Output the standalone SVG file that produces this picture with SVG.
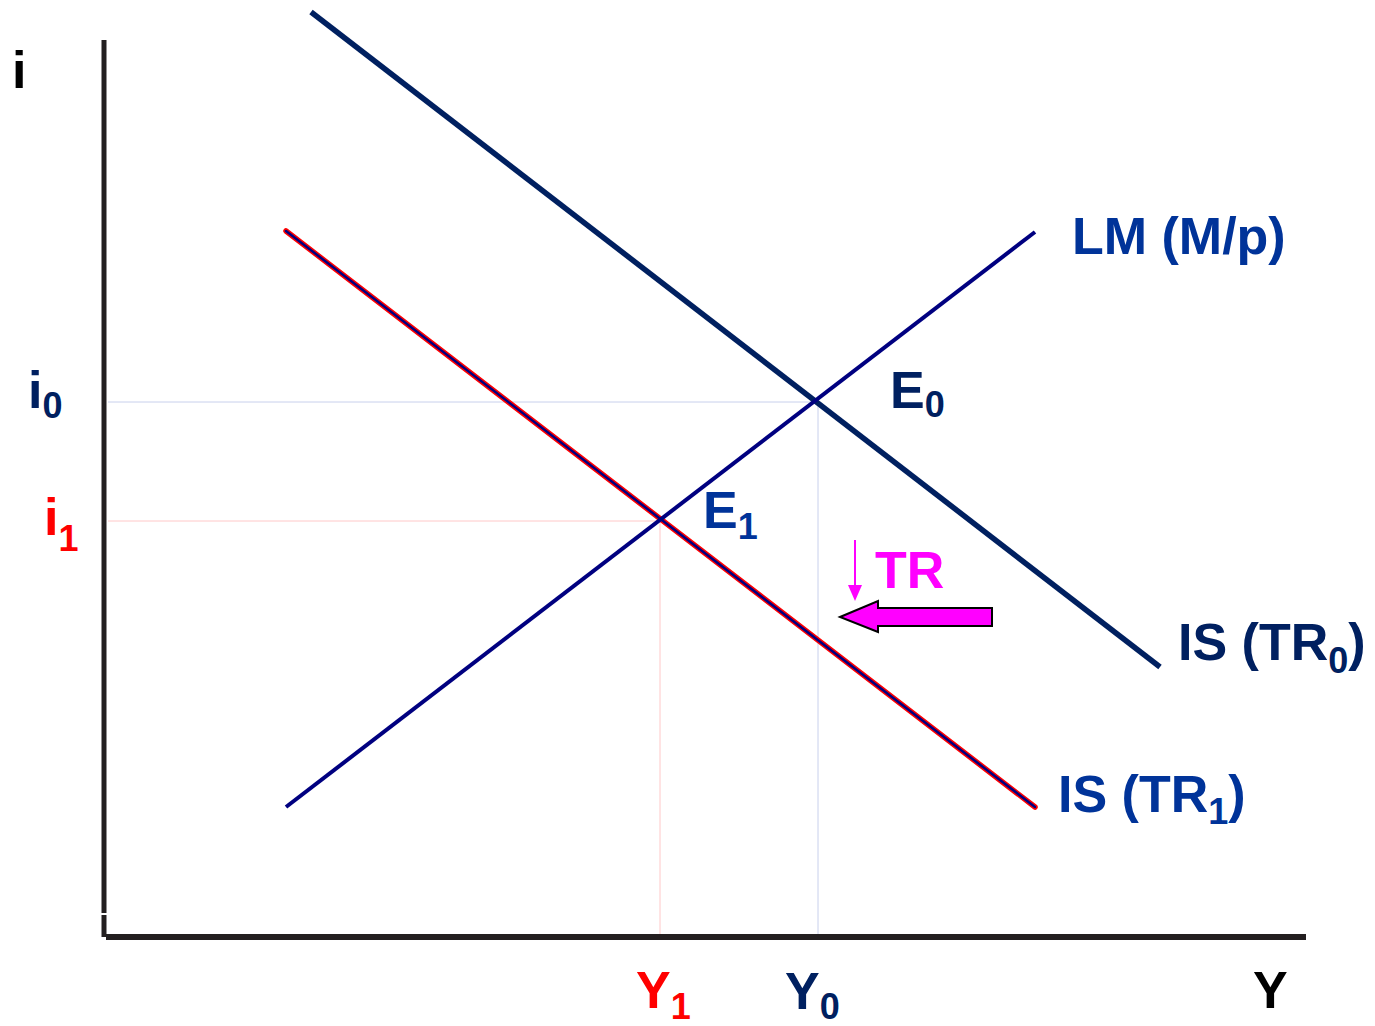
<svg xmlns="http://www.w3.org/2000/svg" width="1375" height="1026" viewBox="0 0 1375 1026">
<style>
text{font-family:"Liberation Sans",Arial,sans-serif;font-weight:bold;font-size:52px}
.sub{font-size:36px}
.navy{fill:#002060}
.blue{fill:#003399}
.red{fill:#ff0000}
.mag{fill:#ff00ff}
.blk{fill:#000000}
</style>
<defs>
<marker id="ah" viewBox="0 0 14 16" refX="13" refY="7" markerWidth="16" markerHeight="14" orient="auto" markerUnits="userSpaceOnUse">
<path d="M0,0 L16,7 L0,14 z" fill="#ff00ff"/>
</marker>
</defs>
<g id="connectors">
<line x1="108" y1="402" x2="818" y2="402" stroke="#c8d0ec" stroke-width="1"/>
<line x1="818" y1="402" x2="818" y2="936" stroke="#c8d0ec" stroke-width="1"/>
<line x1="108" y1="521" x2="660" y2="521" stroke="#ffc8c8" stroke-width="1"/>
<line x1="660" y1="521" x2="660" y2="936" stroke="#ffc8c8" stroke-width="1"/>
<line id="is0" x1="311" y1="12" x2="1160" y2="667" stroke="#002060" stroke-width="5.5"/>
<line id="is1-outline" x1="286" y1="231" x2="1035" y2="807" stroke="#ff0000" stroke-width="5.5" stroke-linecap="round"/>
<line id="is1" x1="286" y1="231" x2="1035" y2="807" stroke="#000080" stroke-width="2.5" stroke-linecap="round"/>
<line id="lm" x1="286" y1="807" x2="1035" y2="232" stroke="#000080" stroke-width="4"/>
<line x1="855" y1="540" x2="855" y2="588" stroke="#ff00ff" stroke-width="2"/>
<polygon points="848,585 862,585 855,601" fill="#ff00ff"/>
<polygon points="840,617 878,601 878,608 992,608 992,626 878,626 878,632" fill="#ff00ff" stroke="#000" stroke-width="2"/>
</g>
<g id="axes">
<line x1="104" y1="40" x2="104" y2="913" stroke="#231f20" stroke-width="5"/>
<line x1="104" y1="915" x2="104" y2="937" stroke="#231f20" stroke-width="5"/>
<line x1="106" y1="937" x2="1306" y2="937" stroke="#231f20" stroke-width="6"/>
</g>
<g id="labels">
<text x="12" y="88" class="blk">i</text>
<text x="28" y="408" class="navy">i<tspan class="sub" dy="10">0</tspan></text>
<text x="44" y="535" class="red">i<tspan class="sub" dy="16">1</tspan></text>
<text x="1072" y="254" class="blue">LM (M/p)</text>
<text x="890" y="408" class="navy">E<tspan class="sub" dy="9">0</tspan></text>
<text x="703" y="528" class="blue">E<tspan class="sub" dy="11">1</tspan></text>
<text x="875" y="588" class="mag">TR</text>
<text x="1178" y="660" class="navy">IS (TR<tspan class="sub" dy="13">0</tspan><tspan dy="-13">)</tspan></text>
<text x="1058" y="812" class="blue">IS (TR<tspan class="sub" dy="12">1</tspan><tspan dy="-12">)</tspan></text>
<text x="636" y="1008" class="red">Y<tspan class="sub" dy="11">1</tspan></text>
<text x="785" y="1009" class="navy">Y<tspan class="sub" dy="10">0</tspan></text>
<text x="1253" y="1008" class="blk">Y</text>
</g>
</svg>
